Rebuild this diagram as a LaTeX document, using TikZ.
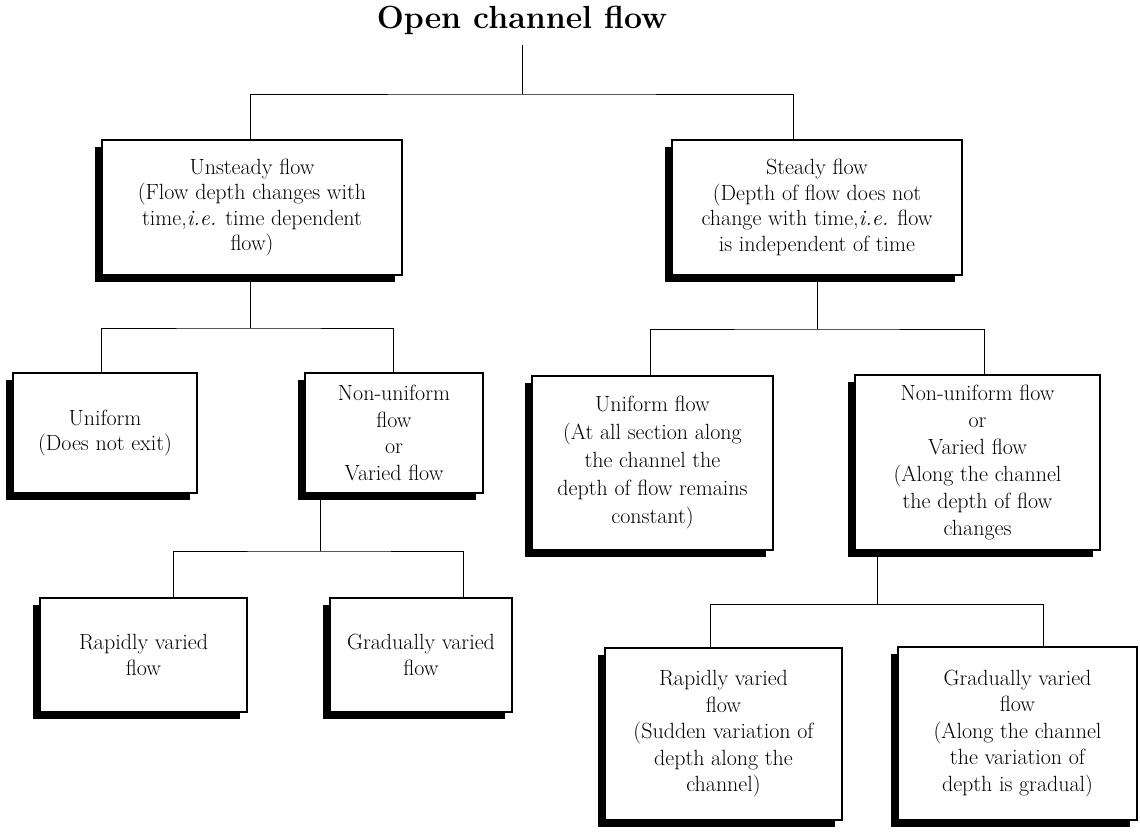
\documentclass[tikz,border=0pt]{standalone}
\usepackage{fontspec}
\usetikzlibrary{shadows}
\begin{document}
\begin{tikzpicture}[x=1pt,y=-1pt,
  tbox/.style={draw=black, line width=1.4pt, fill=white, align=center, inner sep=0pt,
    font=\fontsize{22}{25.5}\selectfont,
    drop shadow={shadow xshift=-7pt, shadow yshift=-7pt, opacity=1, fill=black}},
  conn/.style={draw=black, line width=1pt}]
\useasboundingbox (0,0) rectangle (1140,833);

\node[font=\fontsize{32}{36}\selectfont\bfseries, inner sep=0pt] (title) at (522,20) {Open channel flow};

\node[tbox, minimum width=300, minimum height=135] (unsteady) at (252,207.5)
  {Unsteady flow\\(Flow depth changes with\\time,\textit{i.e.} time dependent\\flow)};
\node[tbox, minimum width=290, minimum height=135] (steady) at (817,207.5)
  {Steady flow\\(Depth of flow does not\\change with time,\textit{i.e.} flow\\is independent of time};

\node[tbox, minimum width=184, minimum height=120] (uniformL) at (105,433)
  {Uniform\\(Does not exit)};
\node[tbox, minimum width=178, minimum height=120, font=\fontsize{22}{26.5}\selectfont] (nonuniL) at (394,433)
  {Non-uniform\\flow\\or\\Varied flow};

\node[tbox, minimum width=207, minimum height=114] (rapidL) at (143.5,655)
  {Rapidly varied\\flow};
\node[tbox, minimum width=182, minimum height=114] (gradL) at (421,655)
  {Gradually varied\\flow};

\node[tbox, minimum width=241, minimum height=174, font=\fontsize{22}{28}\selectfont] (uniformR) at (652.5,463)
  {Uniform flow\\(At all section along\\the channel the\\depth of flow remains\\constant)};
\node[tbox, minimum width=245, minimum height=175, font=\fontsize{22}{27}\selectfont] (nonuniR) at (977.5,462.5)
  {Non-uniform flow\\or\\Varied flow\\(Along the channel\\the depth of flow\\changes};

\node[tbox, minimum width=237, minimum height=172, font=\fontsize{22}{26.5}\selectfont] (rapidR) at (723.5,734)
  {Rapidly varied\\flow\\(Sudden variation of\\depth along the\\channel)};
\node[tbox, minimum width=239, minimum height=173, font=\fontsize{22}{26.5}\selectfont] (gradR) at (1017.5,733.5)
  {Gradually varied\\flow\\(Along the channel\\the variation of\\depth is gradual)};

% junctions
\coordinate (j0) at (522,94);
\coordinate (j1) at (250,328);
\coordinate (j2) at (320,551);
\coordinate (j3) at (817,329);
\coordinate (j4) at (877,604);

\draw[conn] ([yshift=-10pt]title.south) -- (j0);
\draw[conn] ([xshift=-2pt]unsteady.north) |- (j0) -| ([xshift=-24pt]steady.north);

\draw[conn] ([xshift=-2pt]unsteady.south) -- (j1);
\draw[conn] ([xshift=-4pt]uniformL.north) |- (j1) -| ([xshift=-1pt]nonuniL.north);

\draw[conn] ([xshift=-74pt]nonuniL.south) -- (j2);
\draw[conn] ([xshift=30pt]rapidL.north) |- (j2) -| ([xshift=42pt]gradL.north);

\draw[conn] (steady.south) -- (j3);
\draw[conn] ([xshift=-2.5pt]uniformR.north) |- (j3) -| ([xshift=6.5pt]nonuniR.north);

\draw[conn] ([xshift=-100.5pt]nonuniR.south) -- (j4);
\draw[conn] ([xshift=-13.5pt]rapidR.north) |- (j4) -| ([xshift=25.5pt]gradR.north);
\end{tikzpicture}
\end{document}
